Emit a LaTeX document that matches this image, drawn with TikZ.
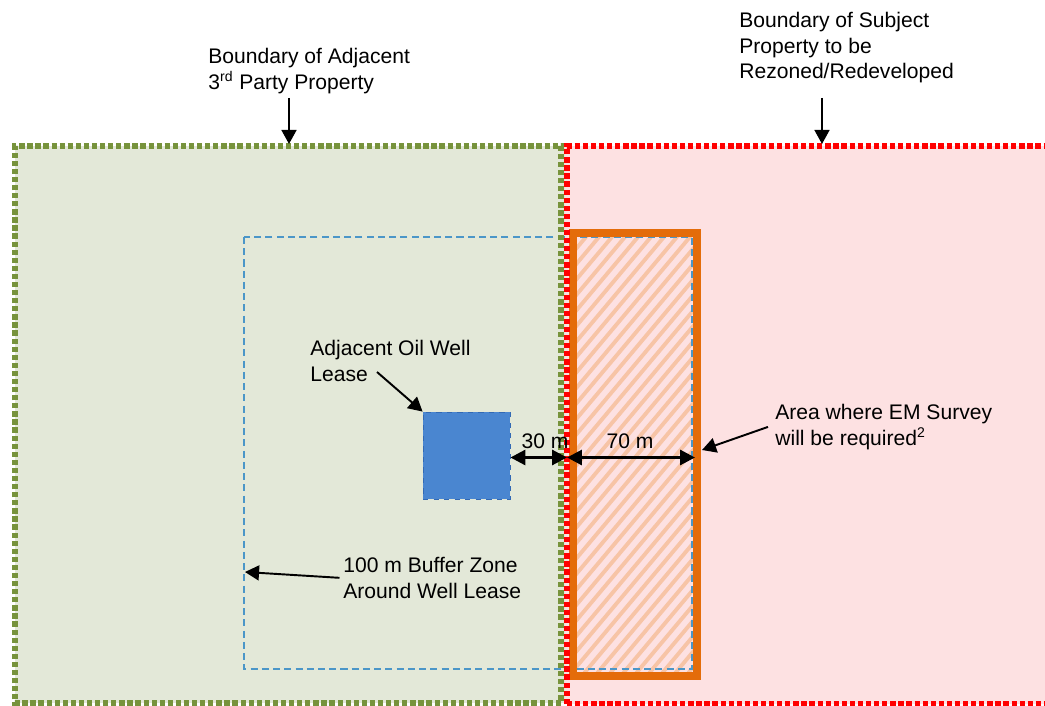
\documentclass[tikz,border=0pt]{standalone}
\usepackage{fontspec}
\setmainfont{Liberation Sans}
\usetikzlibrary{arrows.meta}

\definecolor{adjfill}{RGB}{227,232,216}
\definecolor{adjline}{RGB}{119,147,60}
\definecolor{subjfill}{RGB}{253,225,226}
\definecolor{subjline}{RGB}{255,0,0}
\definecolor{emline}{RGB}{228,108,10}
\definecolor{emhatch}{RGB}{247,196,166}
\definecolor{bufline}{RGB}{75,150,200}
\definecolor{wellfill}{RGB}{74,134,208}
\definecolor{wellline}{RGB}{50,105,180}

\tikzset{
  lbl/.style={align=left, inner sep=0pt, anchor=north west, font=\fontsize{12}{14.5}\selectfont},
  dimlbl/.style={inner sep=0pt, anchor=base, font=\fontsize{12}{14.5}\selectfont},
  ptr/.style={-{Triangle[length=8pt,width=8.5pt]}, line width=1.1pt},
  dimarr/.style={{Triangle[length=8.5pt,width=8.5pt]}-{Triangle[length=8.5pt,width=8.5pt]}, line width=1.7pt},
  dotb/.style={line width=2.9pt, dash pattern=on 3pt off 1.6pt},
  well/.style={draw=wellline, fill=wellfill, dashed, line width=0.5pt, minimum size=1.74cm, inner sep=0pt},
}

\begin{document}
\begin{tikzpicture}[x=0.02cm, y=-0.02cm]
\clip (0,0) rectangle (1045,706);
\fill[white] (0,0) rectangle (1045,706);

% property areas
\fill[adjfill] (15,146) rectangle (565,703);
\fill[subjfill] (565,146) rectangle (1060,704);

% area of EM survey
\begin{scope}
\clip (572,233) rectangle (697,676);
\foreach \i in {0,...,42}
  \draw[emhatch, line width=2.2pt] (180+\i*13,690) -- ++(390,-465);
\end{scope}

% buffer zone
\draw[bufline, line width=0.8pt, dash pattern=on 4pt off 2.4pt] (244,237) rectangle (692,669);

\draw[emline, line width=4pt] (573,233) rectangle (697,676);

% boundaries
\draw[adjline, dotb] (561,703) -- (15,703) -- (15,146) -- (561,146) -- cycle;
\draw[subjline, dotb] (567,704) -- (567,146) -- (1060,146);
\draw[subjline, dotb] (567,704) -- (1060,704);

% well lease
\node[well] (well) at (466.5,455.5) {};

% labels
\node[lbl] (adjLbl) at (208,48) {Boundary of Adjacent\\3\textsuperscript{rd} Party Property};
\node[lbl] (subjLbl) at (739,12) {Boundary of Subject\\Property to be\\Rezoned/Redeveloped};
\node[lbl] (wellLbl) at (310,340) {Adjacent Oil Well\\Lease};
\node[lbl] (emLbl) at (775,404) {Area where EM Survey\\will be required\textsuperscript{2}};
\node[lbl] (bufLbl) at (343,557) {100 m Buffer Zone\\Around Well Lease};
\node[dimlbl] (d30) at (545,448) {30 m};
\node[dimlbl] (d70) at (630,448) {70 m};

\coordinate (adjTail) at (289,98);
\coordinate (adjTip) at (289,144);
\coordinate (subjTail) at (822,98);
\coordinate (subjTip) at (822,144);
\coordinate (wellTail) at (377,372);
\coordinate (bnd) at (567,457.5);
\coordinate (stripE) at (695,457.5);
\coordinate (emTip) at (702,450);
\coordinate (bufTip) at (245,572);

% pointers
\draw[ptr] (adjTail) -- (adjTip);
\draw[ptr] (subjTail) -- (subjTip);
\draw[ptr] (wellTail) -- (well.north west);
\draw[ptr] ([xshift=-4pt]emLbl.west) -- (emTip);
\draw[ptr] ([xshift=-2pt]bufLbl.west) -- (bufTip);

% distances
\draw[dimarr] (well.east |- bnd) -- (bnd);
\draw[dimarr] (bnd) -- (stripE);
\end{tikzpicture}
\end{document}
